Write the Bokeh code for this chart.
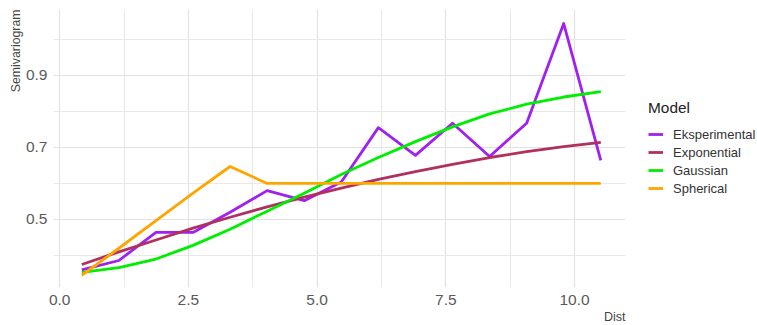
from bokeh.plotting import figure
from bokeh.models import (Range1d, FixedTicker, NumeralTickFormatter, Legend,
                          LegendItem, Title, ColumnDataSource)
from bokeh.embed import file_html
from bokeh.resources import INLINE

# Lag distances (bin centres)
dist = [0.43, 1.15, 1.87, 2.59, 3.31, 4.03, 4.75, 5.47, 6.19, 6.91,
        7.63, 8.35, 9.07, 9.79, 10.51]

# Experimental semivariogram and fitted models
eksperimental = [0.360, 0.386, 0.464, 0.464, 0.520, 0.580, 0.552, 0.604, 0.755,
                 0.678, 0.767, 0.675, 0.767, 1.044, 0.664]
exponential = [0.375, 0.410, 0.443, 0.476, 0.506, 0.535, 0.562, 0.587, 0.611,
               0.633, 0.653, 0.672, 0.688, 0.702, 0.714]
gaussian = [0.353, 0.366, 0.390, 0.428, 0.473, 0.523, 0.573, 0.625, 0.672,
            0.716, 0.757, 0.793, 0.820, 0.840, 0.855]
spherical = [0.345, 0.420, 0.497, 0.573, 0.647, 0.600, 0.600, 0.600, 0.600,
             0.600, 0.600, 0.600, 0.600, 0.600, 0.600]

model_names = ["Eksperimental", "Exponential", "Gaussian", "Spherical"]
model_values = [eksperimental, exponential, gaussian, spherical]
model_colors = ["#A020F0", "#B03060", "#00EE00", "#FFA500"]

x_major = [0.0, 2.5, 5.0, 7.5, 10.0]
x_minor = [1.25, 3.75, 6.25, 8.75]
y_major = [0.5, 0.7, 0.9]
y_minor = [0.4, 0.6, 0.8, 1.0]

FONT = "Liberation Sans"

p = figure(frame_width=572, frame_height=278, output_backend="svg",
           toolbar_location=None,
           x_range=Range1d(-0.12, 10.99), y_range=Range1d(0.311, 1.083),
           min_border_left=53, min_border_right=132, min_border_top=9,
           min_border_bottom=38)
p.outline_line_color = None
p.background_fill_color = "white"
p.border_fill_color = "white"

for ax in (p.xaxis[0], p.yaxis[0]):
    ax.axis_line_color = None
    ax.major_tick_line_color = None
    ax.minor_tick_line_color = None
    ax.major_tick_out = 0
    ax.major_tick_in = 0
    ax.major_label_text_font = FONT
    ax.major_label_text_font_size = "15.5px"
    ax.major_label_text_color = "#5a5a5a"
    ax.formatter = NumeralTickFormatter(format="0.0")

p.xaxis[0].ticker = FixedTicker(ticks=x_major, minor_ticks=x_minor)
p.yaxis[0].ticker = FixedTicker(ticks=y_major, minor_ticks=y_minor)
p.xaxis[0].major_label_standoff = 3
p.yaxis[0].major_label_standoff = 2

for g in (p.xgrid[0], p.ygrid[0]):
    g.grid_line_color = "#e2e2e2"
    g.grid_line_width = 1.2
    g.minor_grid_line_color = "#e8e8e8"
    g.minor_grid_line_width = 1.0

# Axis titles, pinned to the far end of each axis
p.add_layout(Title(text="Dist", align="right", text_font=FONT,
                   text_font_size="12.5px", text_font_style="normal",
                   text_color="#444444", standoff=0, offset=0), "below")
p.add_layout(Title(text="Semivariogram", align="right", text_font=FONT,
                   text_font_size="12.3px", text_font_style="normal",
                   text_color="#444444", standoff=0, offset=0), "left")

items = []
for name, vals, col in zip(model_names, model_values, model_colors):
    src = ColumnDataSource(dict(x=dist, y=vals))
    r = p.line("x", "y", source=src, line_color=col, line_width=2.8,
               line_join="round")
    items.append(LegendItem(label=name, renderers=[r]))

legend = Legend(items=items, title="Model", location="center_left",
                title_text_font=FONT, title_text_font_size="15.4px",
                title_text_font_style="normal", title_text_color="#222222",
                title_standoff=8,
                label_text_font=FONT, label_text_font_size="13px",
                label_text_color="#333333",
                glyph_width=15, glyph_height=18, label_height=18,
                label_standoff=10, spacing=0, padding=6, margin=23,
                border_line_color=None, background_fill_alpha=0)
p.add_layout(legend, "right")

open("out.html", "w").write(file_html(p, INLINE))
